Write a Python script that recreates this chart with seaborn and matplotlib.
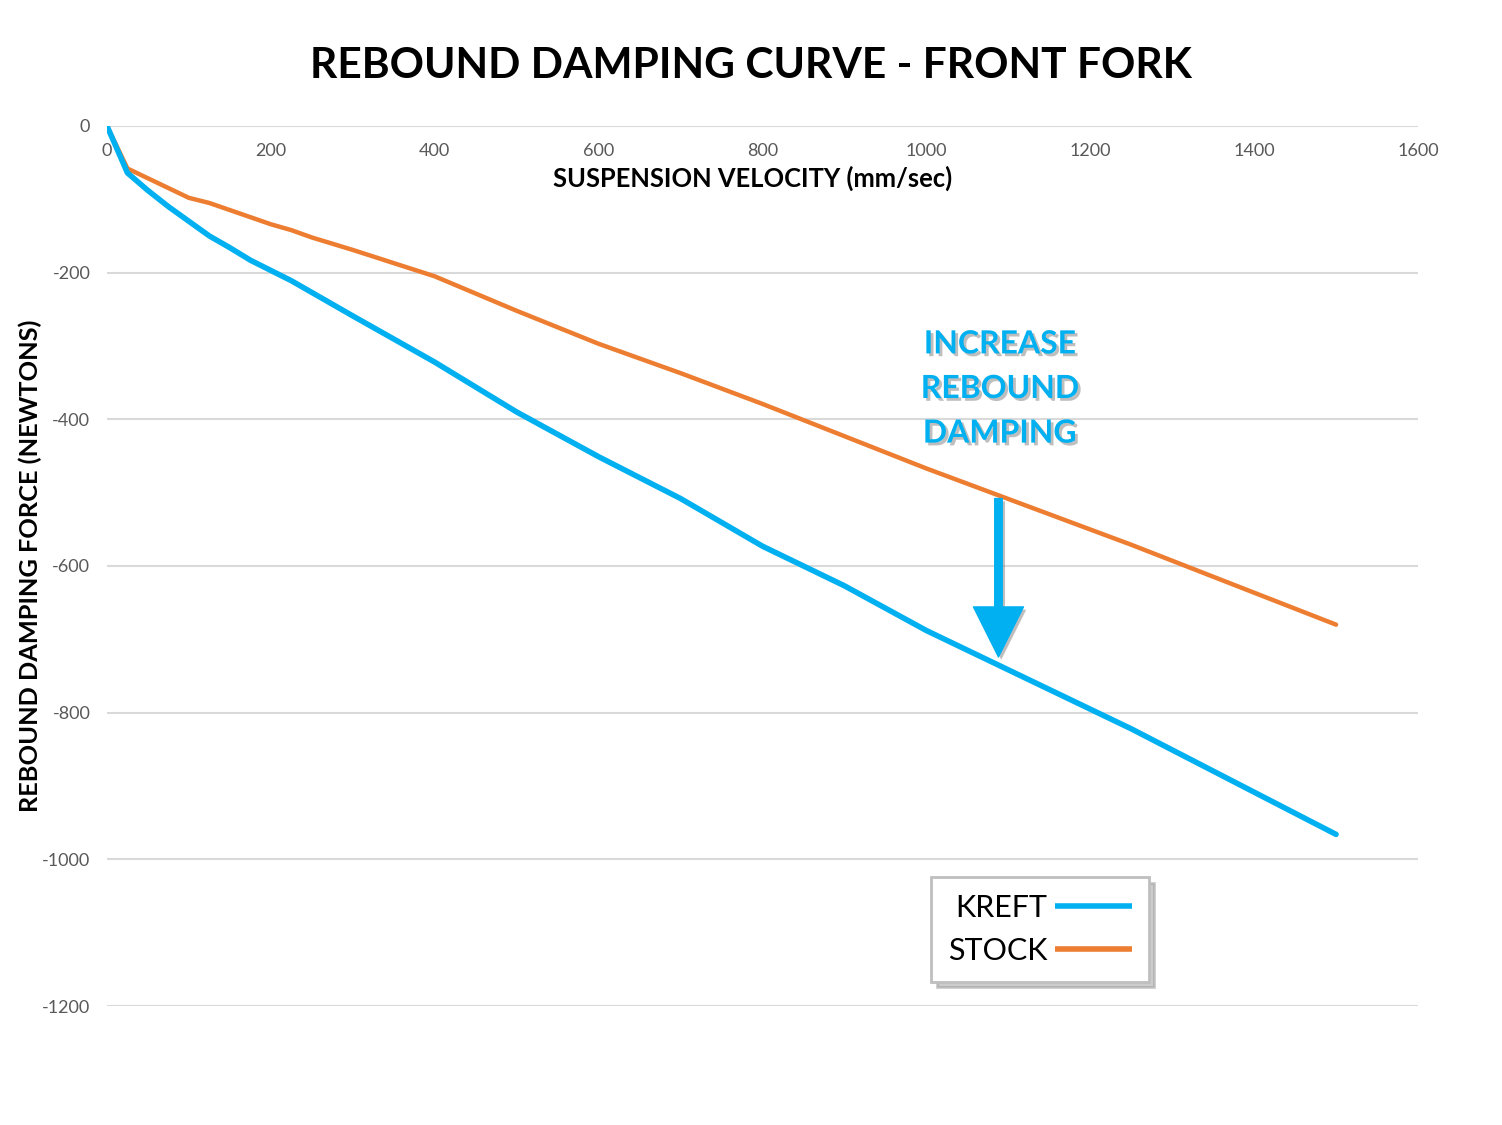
import matplotlib
matplotlib.use("Agg")
import matplotlib.pyplot as plt
import matplotlib.patheffects as pe
import seaborn as sns
import pandas as pd

# ---- data ----
stock_velocity = [0, 25, 100, 125, 200, 225, 250, 300, 400, 500, 600, 700, 800, 900, 1000, 1250, 1500]
stock_force = [0, -58, -98, -105, -134, -142, -152, -169, -205, -252, -297, -337, -379, -423, -467, -571, -680]

kreft_velocity = [0, 25, 50, 75, 100, 125, 150, 175, 200, 225, 250, 300, 400, 450, 500, 600, 700, 800, 900, 1000, 1250, 1500]
kreft_force = [0, -64, -88, -110, -130, -150, -166, -183, -197, -211, -227, -259, -322, -356, -390, -451, -508, -573, -627, -688, -822, -966]

x_ticks = [0, 200, 400, 600, 800, 1000, 1200, 1400, 1600]
y_ticks = [0, -200, -400, -600, -800, -1000, -1200]

title = "REBOUND DAMPING CURVE - FRONT FORK"
x_label = "SUSPENSION VELOCITY (mm/sec)"
y_label = "REBOUND DAMPING FORCE (NEWTONS)"
annotation = "INCREASE\nREBOUND\nDAMPING"
series_names = ["KREFT", "STOCK"]
colors = {"KREFT": "#00B0F0", "STOCK": "#ED7D31"}

df_kreft = pd.DataFrame({"velocity": kreft_velocity, "force": kreft_force, "series": "KREFT"})
df_stock = pd.DataFrame({"velocity": stock_velocity, "force": stock_force, "series": "STOCK"})

sns.set_theme(style="white")
plt.rcParams["font.family"] = ["Lato", "DejaVu Sans"]

fig = plt.figure(figsize=(15.02, 11.25), dpi=100)
ax = fig.add_axes([107 / 1502, 1 - 1006 / 1125, (1418 - 107) / 1502, (1006 - 126) / 1125])

sns.lineplot(data=df_stock, x="velocity", y="force", color=colors["STOCK"], linewidth=3.2,
             ax=ax, solid_capstyle="round", label="STOCK", zorder=3)
sns.lineplot(data=df_kreft, x="velocity", y="force", color=colors["KREFT"], linewidth=4.0,
             ax=ax, solid_capstyle="round", label="KREFT", zorder=4)

ax.set_xlim(0, 1600)
ax.set_ylim(-1200, 0)
ax.set_xticks(x_ticks)
ax.set_yticks(y_ticks)
ax.set_yticklabels([str(v) for v in y_ticks])
ax.xaxis.set_ticks_position("top")
ax.xaxis.set_label_position("top")
ax.tick_params(axis="x", length=0, pad=-24, labelsize=13, labelcolor="#595959")
ax.tick_params(axis="y", length=0, pad=12, labelsize=13, labelcolor="#595959")
for s in ax.spines.values():
    s.set_visible(False)
ax.grid(axis="y", color="#D9D9D9", linewidth=1.5)
ax.grid(axis="x", visible=False)
ax.set_axisbelow(True)

ax.set_xlabel(x_label, fontsize=18.4, fontweight="bold", color="black", labelpad=-44)
ax.xaxis.label.set_x(0.4927)
ax.set_ylabel(y_label, fontsize=18.3, fontweight="bold", color="black", labelpad=0)

fig.suptitle(title, x=0.5, y=1 - 66 / 1125, va="center", fontsize=30.6, fontweight="bold",
             color="black")

shadow = [pe.SimplePatchShadow(offset=(2, -2), shadow_rgbFace="#7F7F7F", alpha=0.5), pe.Normal()]
ax.text(1090, -358, annotation, ha="center", va="center", fontsize=23, fontweight="bold",
        color=colors["KREFT"], linespacing=1.65,
        path_effects=[pe.withSimplePatchShadow(offset=(2, -2), shadow_rgbFace="#7F7F7F", alpha=0.5)])

ax.annotate("", xy=(1088, -724), xytext=(1088, -508),
            arrowprops=dict(arrowstyle="simple,head_length=3.0,head_width=3.0,tail_width=0.45",
                            color=colors["KREFT"], shrinkA=0, shrinkB=0,
                            path_effects=shadow), zorder=5)

handles, labels = ax.get_legend_handles_labels()
order = [labels.index(n) for n in series_names]
leg = ax.legend([handles[i] for i in order], [labels[i] for i in order],
                loc="upper left", bbox_to_anchor=(0.6285, 0.1466), frameon=True,
                fancybox=False, shadow={"color": "#8F8F8F", "alpha": 0.45, "ox": 4, "oy": -4},
                edgecolor="#BFBFBF", fontsize=22, markerfirst=False, labelcolor="black",
                handlelength=2.52, handletextpad=0.25, borderpad=0.55, labelspacing=0.5,
                borderaxespad=0)
leg.get_frame().set_linewidth(2)
for line in leg.get_lines():
    line.set_linewidth(4)
    line.set_solid_capstyle("butt")

fig.savefig("out.png", dpi=100)
